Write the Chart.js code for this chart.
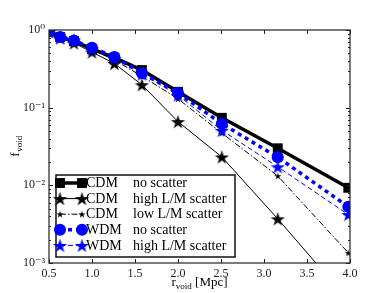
<!DOCTYPE html>
<html lang="en">
    <head>
        <title> f_void vs r_void </title>
        <style>
            body { margin: 0; background: #fff; }
        </style>
        <script src="https://cdn.jsdelivr.net/npm/chart.js@4.4.1/dist/chart.umd.min.js"></script>
    </head>

    <body>
        <canvas id="myChart" width="390" height="293"></canvas>

        <script>

            // void radius in Mpc (x values)
            const rVoid = [0.50, 0.63, 0.79, 1.00, 1.26, 1.58, 2.00, 2.51, 3.16, 3.98];

            // void fraction for each model
            const cdmNoScatter   = [0.96, 0.81, 0.72, 0.57, 0.44, 0.305, 0.16, 0.074, 0.030, 0.0093];
            const cdmHighScatter = [0.95, 0.79, 0.68, 0.52, 0.37, 0.197, 0.066, 0.0232, 0.0037, 0.00033];
            const cdmLowScatter  = [0.95, 0.80, 0.72, 0.56, 0.41, 0.255, 0.13, 0.047, 0.0132, 0.00135];
            const wdmNoScatter   = [0.97, 0.81, 0.73, 0.59, 0.45, 0.28, 0.155, 0.062, 0.023, 0.0053];
            const wdmHighScatter = [0.96, 0.80, 0.745, 0.57, 0.43, 0.27, 0.145, 0.051, 0.0173, 0.0042];

            const modelNames  = ['CDM', 'CDM', 'CDM', 'WDM', 'WDM'];
            const scatterText = ['no scatter', 'high L/M scatter', 'low L/M scatter', 'no scatter', 'high L/M scatter'];

            const xTicks = [0.5, 1.0, 1.5, 2.0, 2.5, 3.0, 3.5, 4.0];
            const yTicks = [0.001, 0.01, 0.1, 1];
            const yTickLabels = ['10\u207B\u00B3', '10\u207B\u00B2', '10\u207B\u00B9', '10\u2070'];

            const BLUE = '#0000ff';
            const SERIF = '"Liberation Serif", "DejaVu Serif", serif';

            // filled five pointed star as a point image
            function makeStar (R, fill) {
                const c = document.createElement('canvas');
                const s = Math.ceil(2 * R + 2);
                c.width = s; c.height = s;
                const g = c.getContext('2d');
                g.translate(s / 2, s / 2 + R * 0.1);
                g.beginPath();
                for (let i = 0; i < 10; i++) {
                    const r = i % 2 === 0 ? R : R * 0.382;
                    const a = -Math.PI / 2 + i * Math.PI / 5;
                    g.lineTo(r * Math.cos(a), r * Math.sin(a));
                }
                g.closePath();
                g.fillStyle = fill;
                g.fill();
                return c;
            }

            const bigBlackStar = makeStar(7.5, '#000');
            const smallBlackStar = makeStar(3.8, '#000');
            const blueStar = makeStar(7.5, BLUE);

            const toPoints = ys => rVoid.map((x, i) => ({ x: x, y: ys[i] }));

            const datasets = [
                { data: toPoints(cdmNoScatter), borderColor: '#000', backgroundColor: '#000', borderWidth: 3.5,
                  pointStyle: 'rect', pointRadius: 7, pointBorderWidth: 0, order: 5 },
                { data: toPoints(cdmHighScatter), borderColor: '#000', backgroundColor: '#000', borderWidth: 1,
                  pointStyle: bigBlackStar, pointRadius: 7, order: 4 },
                { data: toPoints(cdmLowScatter), borderColor: '#000', backgroundColor: '#000', borderWidth: 1,
                  borderDash: [6, 2, 1.5, 2], pointStyle: smallBlackStar, pointRadius: 4, order: 3 },
                { data: toPoints(wdmNoScatter), borderColor: BLUE, backgroundColor: BLUE, borderWidth: 3.5,
                  borderDash: [4, 4], pointStyle: 'circle', pointRadius: 6, pointBorderWidth: 0, order: 2 },
                { data: toPoints(wdmHighScatter), borderColor: BLUE, backgroundColor: BLUE, borderWidth: 1,
                  borderDash: [5, 3], pointStyle: blueStar, pointRadius: 7, order: 1 }
            ];
            datasets.forEach(ds => { ds.tension = 0; ds.fill = false; ds.pointHoverRadius = ds.pointRadius; });

            function drawMarker (ctx, ds, x, y) {
                const st = ds.pointStyle;
                ctx.save();
                ctx.fillStyle = ds.backgroundColor;
                if (st === 'rect') {
                    const h = ds.pointRadius * Math.SQRT1_2;
                    ctx.fillRect(x - h, y - h, 2 * h, 2 * h);
                } else if (st === 'circle') {
                    ctx.beginPath();
                    ctx.arc(x, y, ds.pointRadius, 0, Math.PI * 2);
                    ctx.fill();
                } else {
                    ctx.drawImage(st, x - st.width / 2, y - st.height / 2);
                }
                ctx.restore();
            }

            // frame, inward ticks, axis titles and legend
            const decorations = {
                id: 'decorations',
                afterDatasetsDraw (chart) {
                    const ctx = chart.ctx;
                    const a = chart.chartArea;
                    const xs = chart.scales.x, ys = chart.scales.y;
                    ctx.save();
                    ctx.strokeStyle = '#222';
                    ctx.lineWidth = 1;

                    ctx.beginPath();
                    xTicks.forEach(v => {
                        const px = Math.round(xs.getPixelForValue(v)) + 0.5;
                        ctx.moveTo(px, a.bottom); ctx.lineTo(px, a.bottom - 4);
                        ctx.moveTo(px, a.top); ctx.lineTo(px, a.top + 4);
                    });
                    for (let d = -3; d <= 0; d++) {
                        for (let k = 1; k <= 9; k++) {
                            const v = k * Math.pow(10, d);
                            if (v > 1) break;
                            const py = Math.round(ys.getPixelForValue(v)) + 0.5;
                            const len = k === 1 ? 4 : 2;
                            ctx.moveTo(a.left, py); ctx.lineTo(a.left + len, py);
                            ctx.moveTo(a.right, py); ctx.lineTo(a.right - len, py);
                        }
                    }
                    ctx.stroke();

                    ctx.lineWidth = 1.2;
                    ctx.strokeRect(a.left, a.top, a.right - a.left, a.bottom - a.top);

                    // legend
                    const lx = 56, ly = 175, lw = 179, lh = 82;
                    ctx.fillStyle = '#fff';
                    ctx.fillRect(lx, ly, lw, lh);
                    ctx.lineWidth = 1.5;
                    ctx.strokeStyle = '#111';
                    ctx.strokeRect(lx, ly, lw, lh);

                    datasets.forEach((ds, i) => {
                        const y = 183 + i * 15.6;
                        ctx.save();
                        ctx.strokeStyle = ds.borderColor;
                        ctx.lineWidth = ds.borderWidth;
                        ctx.setLineDash(ds.borderDash || []);
                        ctx.beginPath();
                        ctx.moveTo(60, y); ctx.lineTo(82, y);
                        ctx.stroke();
                        ctx.restore();
                        drawMarker(ctx, ds, 60, y);
                        drawMarker(ctx, ds, 82, y);
                        ctx.fillStyle = '#000';
                        ctx.font = '14px ' + SERIF;
                        ctx.textBaseline = 'middle';
                        ctx.textAlign = 'left';
                        ctx.fillText(modelNames[i], 86, y + 0.5);
                        ctx.fillText(scatterText[i], 133, y + 0.5);
                    });

                    // axis titles with subscripts
                    ctx.fillStyle = '#000';
                    ctx.textBaseline = 'alphabetic';
                    ctx.textAlign = 'left';

                    ctx.font = '13px ' + SERIF;
                    const wr = ctx.measureText('r').width;
                    const wMpc = ctx.measureText(' [Mpc]').width;
                    ctx.font = '9px ' + SERIF;
                    const wsub = ctx.measureText('void').width;
                    let x0 = (a.left + a.right) / 2 - (wr + wsub + wMpc) / 2;
                    const by = 286;
                    ctx.font = '13px ' + SERIF;
                    ctx.fillText('r', x0, by);
                    ctx.font = '9px ' + SERIF;
                    ctx.fillText('void', x0 + wr, by + 2.5);
                    ctx.font = '13px ' + SERIF;
                    ctx.fillText(' [Mpc]', x0 + wr + wsub, by);

                    ctx.save();
                    ctx.translate(19, (a.top + a.bottom) / 2);
                    ctx.rotate(-Math.PI / 2);
                    ctx.font = '13px ' + SERIF;
                    const wf = ctx.measureText('f').width;
                    ctx.font = '9px ' + SERIF;
                    const ws = ctx.measureText('void').width;
                    const fx = -(wf + ws) / 2;
                    ctx.font = '13px ' + SERIF;
                    ctx.fillText('f', fx, 0);
                    ctx.font = '9px ' + SERIF;
                    ctx.fillText('void', fx + wf + 0.5, 2.5);
                    ctx.restore();

                    ctx.restore();
                }
            };

            const chartContext = document.getElementById('myChart').getContext('2d');
            const myChart = new Chart(chartContext, {
                type: 'line',
                data: { datasets: datasets },
                options: {
                    responsive: false,
                    animation: false,
                    devicePixelRatio: 1,
                    layout: { padding: { left: 0, right: 40, top: 30, bottom: 0 } },
                    plugins: {
                        legend: { display: false },
                        tooltip: { enabled: false }
                    },
                    scales: {
                        x: {
                            type: 'linear',
                            min: 0.5,
                            max: 4.0,
                            grid: { display: false, drawTicks: false },
                            border: { display: false },
                            afterBuildTicks: s => { s.ticks = xTicks.map(v => ({ value: v })); },
                            afterFit: s => { s.height = 30; },
                            ticks: {
                                color: '#222',
                                padding: 4,
                                maxRotation: 0,
                                font: { family: SERIF, size: 12 },
                                callback: v => Number(v).toFixed(1)
                            }
                        },
                        y: {
                            type: 'logarithmic',
                            min: 0.001,
                            max: 1,
                            grid: { display: false, drawTicks: false },
                            border: { display: false },
                            afterBuildTicks: s => { s.ticks = yTicks.map(v => ({ value: v })); },
                            afterFit: s => { s.width = 49; },
                            ticks: {
                                color: '#222',
                                padding: 4,
                                font: { family: SERIF, size: 12 },
                                callback: v => yTickLabels[yTicks.indexOf(v)]
                            }
                        }
                    }
                },
                plugins: [decorations]
            });

        </script>
    </body>
</html>
